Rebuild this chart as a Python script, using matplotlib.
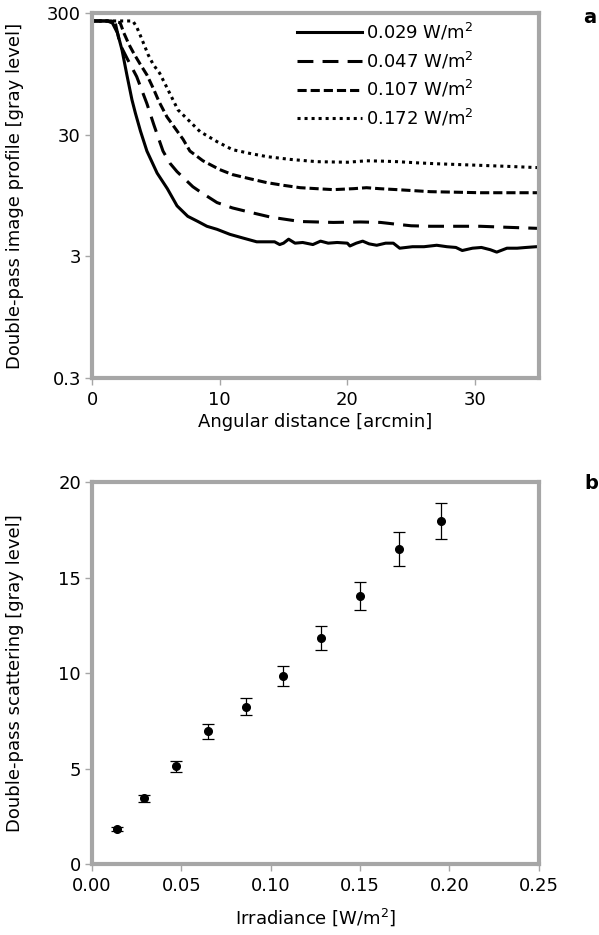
import matplotlib
matplotlib.use("Agg")
import matplotlib.pyplot as plt

plt.rcParams['font.family'] = ['DejaVu Sans']
plt.rcParams['font.size'] = 13

# panel a: double-pass image profiles
x_029 = [0, 0.6, 1.2, 1.6, 2.0, 2.35, 2.74, 3.13, 3.4, 3.8, 4.3, 5.1, 5.9, 6.66, 7.5, 8.3,
         9.0, 9.8, 10.8, 11.8, 12.9, 13.6, 14.3, 14.7, 15.0, 15.4, 15.9, 16.5, 17.3, 17.9,
         18.5, 19.2, 20.0, 20.2, 20.7, 21.2, 21.7, 22.3, 23.0, 23.6, 24.1, 25.1, 26.0, 27.0,
         27.8, 28.5, 29.0, 29.8, 30.5, 31.2, 31.7, 32.5, 33.3, 34.0, 34.8, 35]
y_029 = [258, 258, 258, 248, 205, 149, 92, 58, 45, 32, 22, 14.5, 10.8, 7.8, 6.4, 5.8,
         5.3, 5.0, 4.55, 4.25, 3.95, 3.95, 3.95, 3.75, 3.85, 4.15, 3.85, 3.9, 3.75, 4.0,
         3.85, 3.9, 3.85, 3.65, 3.85, 4.0, 3.8, 3.7, 3.85, 3.85, 3.5, 3.6, 3.6, 3.7,
         3.6, 3.55, 3.35, 3.5, 3.55, 3.4, 3.25, 3.5, 3.5, 3.55, 3.6, 3.6]

x_047 = [0, 1.0, 1.8, 2.2, 2.8, 3.5, 4.3, 4.85, 5.56, 6.1, 6.66, 7.9, 8.46, 9.79, 11.0,
         12.4, 14.0, 16.3, 18.9, 21.0, 22.6, 23.9, 25.0, 26.5, 28.5, 30.4, 32.5, 34.8, 35]
y_047 = [258, 258, 255, 165, 124, 90, 54, 36, 22, 17.5, 14.9, 11.2, 10.2, 8.3, 7.5,
         6.9, 6.3, 5.8, 5.7, 5.75, 5.7, 5.5, 5.35, 5.3, 5.3, 5.3, 5.2, 5.1, 5.1]

x_107 = [0, 1.5, 2.2, 2.5, 2.9, 3.3, 3.75, 4.3, 4.8, 5.25, 5.87, 6.5, 7.13, 7.67, 8.69,
         10.0, 11.0, 12.4, 13.7, 15.0, 16.3, 18.9, 20.5, 21.5, 22.5, 23.9, 26.5, 28.5,
         30.4, 32.5, 34.8, 35]
y_107 = [258, 258, 250, 205, 165, 138, 115, 93, 72, 56, 42, 34, 27.5, 22, 18.3,
         15.5, 14.1, 13, 12.1, 11.5, 11, 10.6, 10.8, 11, 10.8, 10.6, 10.2, 10.1,
         10.0, 10.0, 10.0, 10.0]

x_172 = [0, 2.0, 3.2, 3.5, 3.76, 4.15, 4.4, 4.8, 5.3, 5.87, 6.73, 7.5, 8.46, 9.79, 11.0,
         12.4, 13.7, 15.5, 17.6, 20.0, 21.5, 22.6, 23.9, 25.5, 27.0, 29.0, 31.0, 33.0,
         34.8, 35]
y_172 = [258, 258, 258, 230, 199, 158, 136, 113, 96, 73, 48, 40, 31.8, 26.3, 22.6,
         21, 19.8, 18.8, 18, 17.8, 18.3, 18.2, 18, 17.6, 17.3, 17, 16.7, 16.4,
         16.1, 16.1]

labels_a = ['0.029 W/m$^2$', '0.047 W/m$^2$', '0.107 W/m$^2$', '0.172 W/m$^2$']

# panel b: scattering vs irradiance
irr = [0.014, 0.029, 0.047, 0.065, 0.086, 0.107, 0.128, 0.150, 0.172, 0.195]
scat = [1.82, 3.45, 5.12, 6.94, 8.24, 9.84, 11.85, 14.03, 16.48, 17.96]
scat_err = [0.1, 0.18, 0.28, 0.37, 0.43, 0.52, 0.62, 0.74, 0.89, 0.95]

gray = '#a6a6a6'

fig = plt.figure(figsize=(5.99, 9.35), dpi=100)
ax1 = fig.add_axes([0.1536, 0.5957, 0.746, 0.3904])
ax2 = fig.add_axes([0.1536, 0.0759, 0.746, 0.4086])

lw = 2.2
ax1.plot(x_029, y_029, color='black', lw=lw, ls='-', label=labels_a[0])
ax1.plot(x_047, y_047, color='black', lw=lw, ls=(0, (5.2, 3.0)), label=labels_a[1])
ax1.plot(x_107, y_107, color='black', lw=lw, ls=(0, (3.0, 1.3)), label=labels_a[2])
ax1.plot(x_172, y_172, color='black', lw=lw, ls=(0, (1.0, 1.3)), label=labels_a[3])
ax1.set_yscale('log')
ax1.set_xlim(0, 35)
ax1.set_ylim(0.3, 300)
ax1.set_xticks([0, 10, 20, 30])
ax1.set_yticks([0.3, 3, 30, 300])
ax1.set_yticklabels(['0.3', '3', '30', '300'])
ax1.minorticks_off()
ax1.set_xlabel('Angular distance [arcmin]', va='center')
ax1.set_ylabel('Double-pass image profile [gray level]', va='center')
ax1.xaxis.set_label_coords(0.5, -0.12)
ax1.yaxis.set_label_coords(-0.172, 0.5)
ax1.legend(loc='upper left', bbox_to_anchor=(0.4586, 0.977), frameon=False,
           handlelength=3.6, handletextpad=0.2, labelspacing=0.42,
           borderaxespad=0, borderpad=0)

ax2.errorbar(irr, scat, yerr=scat_err, fmt='o', color='black', ms=5.5,
             elinewidth=0.9, capsize=4.5, capthick=0.9)
ax2.set_xlim(0, 0.25)
ax2.set_ylim(0, 20)
ax2.set_xticks([0, 0.05, 0.10, 0.15, 0.20, 0.25])
ax2.set_xticklabels(['0.00', '0.05', '0.10', '0.15', '0.20', '0.25'])
ax2.set_yticks([0, 5, 10, 15, 20])
ax2.set_xlabel('Irradiance [W/m$^2$]', va='center')
ax2.set_ylabel('Double-pass scattering [gray level]', va='center')
ax2.xaxis.set_label_coords(0.5, -0.14)
ax2.yaxis.set_label_coords(-0.172, 0.5)

for ax in (ax1, ax2):
    for s in ax.spines.values():
        s.set_color(gray)
        s.set_linewidth(3)
    ax.tick_params(which='both', color=gray, length=5, width=1,
                   top=False, right=False, labelsize=13)
    ax.tick_params(axis='x', pad=4.5)
    ax.tick_params(axis='y', pad=3)

fig.text(0.985, 0.981, 'a', fontsize=14, fontweight='bold', ha='center', va='center')
fig.text(0.988, 0.483, 'b', fontsize=14, fontweight='bold', ha='center', va='center')

fig.savefig('out.png', dpi=100)
